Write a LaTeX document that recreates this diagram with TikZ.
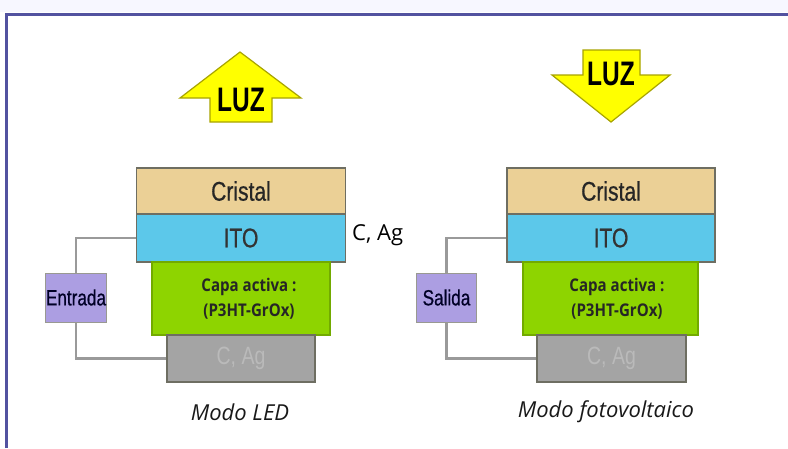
\documentclass[tikz,border=0pt]{standalone}
\usepackage{fontspec}
\setmainfont{Liberation Sans}
\newfontfamily\narrowf[FakeStretch=0.78,FakeBold=0.6]{Liberation Sans}
\newfontfamily\narrowlf[FakeStretch=0.78]{Liberation Sans}
\newfontfamily\narrowbf[FakeStretch=0.72]{Liberation Sans Bold}
\newfontfamily\humf{Open Sans}
\newfontfamily\humbf[FakeStretch=0.86]{Open Sans Bold}
\definecolor{frameblue}{HTML}{5252A0}
\definecolor{cristal}{HTML}{EBD096}
\definecolor{ito}{HTML}{5CC8EA}
\definecolor{activa}{HTML}{8ED400}
\definecolor{metal}{HTML}{A4A4A4}
\definecolor{boxlav}{HTML}{AC9EE2}
\definecolor{edge}{HTML}{6E6E62}
\definecolor{wiregrey}{HTML}{9A9A9A}
\definecolor{sunyellow}{HTML}{FFFF00}
\definecolor{sunedge}{HTML}{A8A400}
\begin{document}
\begin{tikzpicture}[x=1pt,y=-1pt,
  layer/.style={draw=edge, line width=1.4pt, rectangle, inner sep=0pt, anchor=center},
  lcris/.style={layer, fill=cristal, minimum height=46pt, font=\narrowf\fontsize{27}{27}\selectfont, text=black!85},
  lito/.style={layer, fill=ito, minimum height=48pt, font=\narrowf\fontsize{27}{27}\selectfont, text=black!80},
  lact/.style={layer, draw=activa!80!black, fill=activa, minimum height=73pt},
  acttext/.style={font=\humbf\fontsize{17.5}{25}\selectfont, text=black!85, align=center},
  lmet/.style={layer, fill=metal, minimum height=47pt, font=\narrowlf\fontsize{25}{25}\selectfont, text=black!27},
  iobox/.style={draw=edge!70, line width=1pt, fill=boxlav, minimum width=60pt, minimum height=49pt, inner sep=0pt, font=\narrowf\fontsize{22}{22}\selectfont, text=black!75!blue!60!black},
  wire/.style={draw=wiregrey, line width=2.2pt},
  sun/.style={fill=sunyellow, draw=sunedge, line width=1.2pt, line join=miter},
  luz/.style={font=\narrowbf\fontsize{34}{34}\selectfont, text=black, inner sep=0pt},
  caption/.style={font=\humf\itshape\fontsize{22}{22}\selectfont, text=black!90}
]
\useasboundingbox (0,0) rectangle (788,448);
\fill[white] (0,0) rectangle (788,448);
\fill[black!5!blue!3] (0,0) rectangle (788,12);
\draw[frameblue, line width=3pt] (6.5,448) -- (6.5,14.5) -- (788,14.5);

% ---- left: LED mode ----
\draw[sun] (240,52) -- (301,98) -- (272,98) -- (272,122) -- (210,122) -- (210,98) -- (180,98) -- cycle;
\node[luz] (luz1) at (241,100) {LUZ};

\node[lcris, minimum width=209pt] (cris1) at (241,191) {Cristal};
\node[lito, minimum width=209pt] (ito1) at (241,238) {ITO};
\node[lact, minimum width=178pt] (act1) at (241,298.5) {};
\node[acttext] (act1t) at (249,299) {Capa activa :\\(P3HT-GrOx)};
\node[lmet, minimum width=148pt] (met1) at (241,358.5) {C, Ag};
\node[iobox] (ent) at (76,297.5) {Entrada};
\draw[wire] (ito1.west) -| (ent.north);
\draw[wire] (ent.south) |- (met1.west);
\node[iobox] at (76,297.5) {Entrada};
\node[font=\humf\fontsize{22}{22}\selectfont, anchor=west, inner sep=0pt] (cag) at (352,235) {C, Ag};
\node[caption] (cap1) at (240,412) {Modo LED};

% ---- right: photovoltaic mode ----
\draw[sun] (583,50) -- (640,50) -- (640,75) -- (670,75) -- (611,122) -- (552,75) -- (583,75) -- cycle;
\node[luz] (luz2) at (611,74) {LUZ};

\node[lcris, minimum width=208pt] (cris2) at (611,191) {Cristal};
\node[lito, minimum width=208pt] (ito2) at (611,238) {ITO};
\node[lact, minimum width=175pt] (act2) at (610.5,298.5) {};
\node[acttext] (act2t) at (617,299) {Capa activa :\\(P3HT-GrOx)};
\node[lmet, minimum width=149pt] (met2) at (611.5,358.5) {C, Ag};
\node[iobox] (sal) at (446.5,297.5) {Salida};
\draw[wire] (ito2.west) -| (sal.north);
\draw[wire] (sal.south) |- (met2.west);
\node[iobox] at (446.5,297.5) {Salida};
\node[caption] (cap2) at (606,412) {Modo fotovoltaico};
\end{tikzpicture}
\end{document}
